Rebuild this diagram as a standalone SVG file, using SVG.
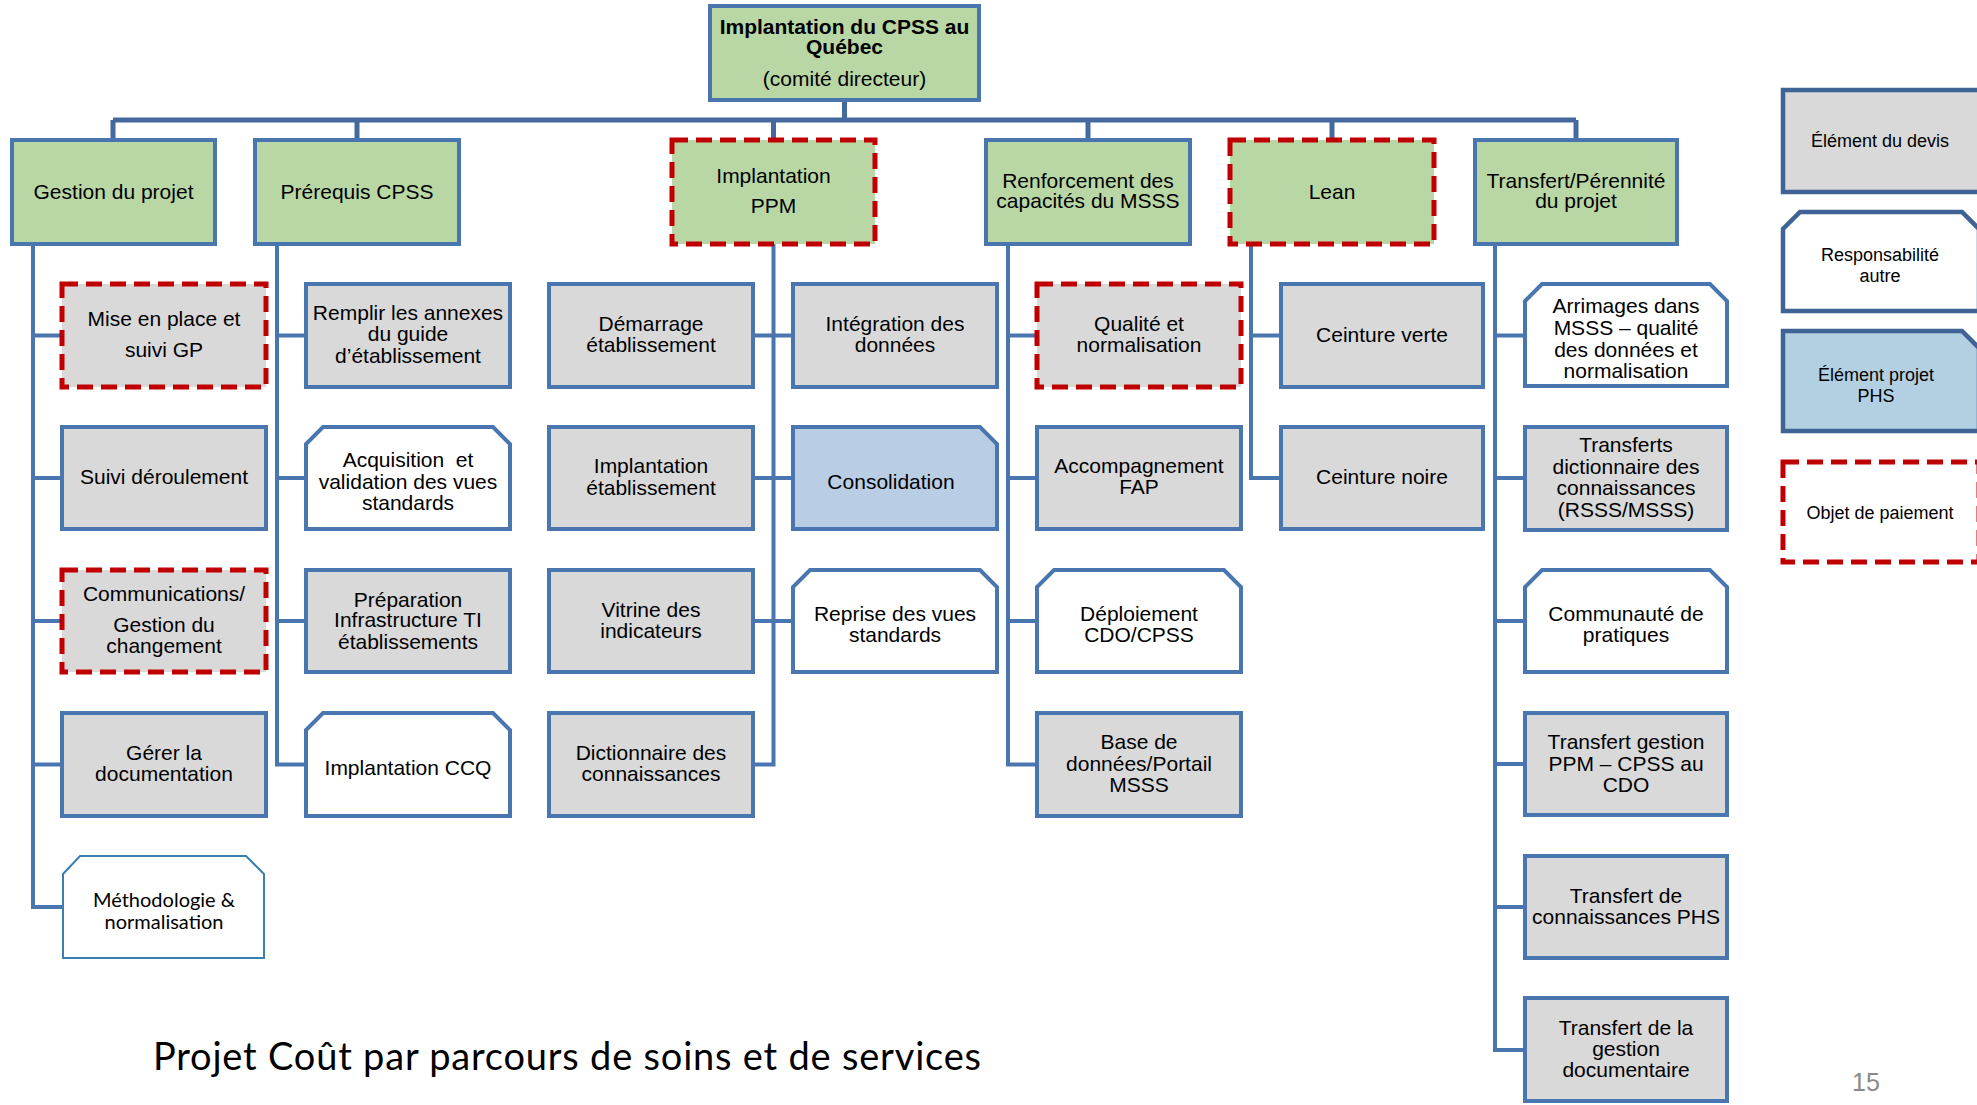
<svg xmlns="http://www.w3.org/2000/svg" width="1977" height="1105" viewBox="0 0 1977 1105">
<style>
.b{stroke:#4a76b0;stroke-width:4}
.lg{stroke:#3e6394;stroke-width:4.5}
.pay{stroke:#c00000;stroke-width:5;stroke-dasharray:16 8}
.g{fill:#b9d7a4}
.gr{fill:#d9d9d9}
.w{fill:#ffffff}
.bl{fill:#b9cde5}
.phs{fill:#b3d0e2}
.meth{fill:#ffffff;stroke:#3b7fb0;stroke-width:2}
.c{fill:none;stroke:#4a76b0;stroke-width:4}
.bus{fill:none;stroke:#44699f;stroke-width:5}
text{font-family:"Liberation Sans",Arial,sans-serif;font-size:21px;fill:#000;text-anchor:middle}
.bd{font-weight:bold}
.s18{font-size:18px}
.lato{font-family:Lato,"Open Sans",sans-serif;font-size:20px}
.title{font-family:Lato,"Open Sans",sans-serif;font-size:38px;text-anchor:start}
.pg{font-size:25px;fill:#898989;text-anchor:start}
</style>

<g id="connectors">
  <path class="bus" d="M844.5,100 V120 M113,120 H1576 M113,120 V140 M357,120 V140 M773.5,120 V140 M1088,120 V140 M1332,120 V140 M1576,120 V140"/>
  <path class="c" d="M33,244 V907 M33,335.5 H62 M33,478 H62 M33,621 H62 M33,764.5 H62 M31,907 H62"/>
  <path class="c" d="M277,244 V764.5 M277,335.5 H306 M277,478 H306 M277,621 H306 M275,764.5 H306"/>
  <path class="c" d="M773.5,244 V766.5 M753,335.5 H793 M753,478 H793 M753,621 H793 M753,764.5 H775.5"/>
  <path class="c" d="M1008,244 V764.5 M1008,335.5 H1037 M1008,478 H1037 M1008,621 H1037 M1006,764.5 H1037"/>
  <path class="c" d="M1251,244 V478 M1251,335.5 H1281 M1249,478 H1281"/>
  <path class="c" d="M1495,244 V1050 M1495,335.5 H1525 M1495,478 H1525 M1495,621 H1525 M1495,764 H1525 M1495,907 H1525 M1493,1050 H1525"/>
</g>

<g id="n_top"><rect class="b g" x="710" y="6" width="269" height="94"/>
<text class="bd" x="844.5" y="34">Implantation du CPSS au</text><text class="bd" x="844.5" y="54">Québec</text><text x="844.5" y="86">(comité directeur)</text></g>

<g id="n_gestion"><rect class="b g" x="12" y="140" width="203" height="104"/><text x="113.5" y="199">Gestion du projet</text></g>
<g id="n_prerequis"><rect class="b g" x="255" y="140" width="204" height="104"/><text x="357" y="199">Prérequis CPSS</text></g>
<g id="n_ppm"><rect class="pay g" x="672" y="140" width="203" height="104"/><text x="773.5" y="183">Implantation</text><text x="773.5" y="213">PPM</text></g>
<g id="n_renforcement"><rect class="b g" x="986" y="140" width="204" height="104"/><text x="1088" y="188">Renforcement des</text><text x="1088" y="208">capacités du MSSS</text></g>
<g id="n_lean"><rect class="pay g" x="1230" y="140" width="204" height="104"/><text x="1332" y="199">Lean</text></g>
<g id="n_transfert"><rect class="b g" x="1475" y="140" width="202" height="104"/><text x="1576" y="188">Transfert/Pérennité</text><text x="1576" y="208">du projet</text></g>

<g id="n_mise"><rect class="pay gr" x="62" y="284" width="204" height="103"/><text x="164" y="326">Mise en place et</text><text x="164" y="357">suivi GP</text></g>
<g id="n_suivi"><rect class="b gr" x="62" y="427" width="204" height="102"/><text x="164" y="484">Suivi déroulement</text></g>
<g id="n_comm"><rect class="pay gr" x="62" y="570" width="204" height="102"/><text x="164" y="601">Communications/</text><text x="164" y="632">Gestion du</text><text x="164" y="653">changement</text></g>
<g id="n_gerer"><rect class="b gr" x="62" y="713" width="204" height="103"/><text x="164" y="760">Gérer la</text><text x="164" y="781">documentation</text></g>
<g id="n_methodo"><path class="meth" d="M80,856 H246 L264,874 V958 H63 V874 Z"/><text class="lato" x="164" y="907">Méthodologie &amp;</text><text class="lato" x="164" y="929">normalisation</text></g>

<g id="n_remplir"><rect class="b gr" x="306" y="284" width="204" height="103"/><text x="408" y="320">Remplir les annexes</text><text x="408" y="341">du guide</text><text x="408" y="363">d’établissement</text></g>
<g id="n_acquisition"><path class="b w" d="M323,427 H493 L510,444 V529 H306 V444 Z"/><text x="408" y="467" xml:space="preserve">Acquisition  et</text><text x="408" y="489">validation des vues</text><text x="408" y="510">standards</text></g>
<g id="n_preparation"><rect class="b gr" x="306" y="570" width="204" height="102"/><text x="408" y="607">Préparation</text><text x="408" y="627">Infrastructure TI</text><text x="408" y="649">établissements</text></g>
<g id="n_ccq"><path class="b w" d="M323,713 H493 L510,730 V816 H306 V730 Z"/><text x="408" y="775">Implantation CCQ</text></g>

<g id="n_demarrage"><rect class="b gr" x="549" y="284" width="204" height="103"/><text x="651" y="331">Démarrage</text><text x="651" y="352">établissement</text></g>
<g id="n_implet"><rect class="b gr" x="549" y="427" width="204" height="102"/><text x="651" y="473">Implantation</text><text x="651" y="495">établissement</text></g>
<g id="n_vitrine"><rect class="b gr" x="549" y="570" width="204" height="102"/><text x="651" y="617">Vitrine des</text><text x="651" y="638">indicateurs</text></g>
<g id="n_dictionnaire"><rect class="b gr" x="549" y="713" width="204" height="103"/><text x="651" y="760">Dictionnaire des</text><text x="651" y="781">connaissances</text></g>

<g id="n_integration"><rect class="b gr" x="793" y="284" width="204" height="103"/><text x="895" y="331">Intégration des</text><text x="895" y="352">données</text></g>
<g id="n_consolidation"><path class="b bl" d="M793,427 H980 L997,444 V529 H793 Z"/><text x="891" y="489">Consolidation</text></g>
<g id="n_reprise"><path class="b w" d="M810,570 H980 L997,587 V672 H793 V587 Z"/><text x="895" y="621">Reprise des vues</text><text x="895" y="642">standards</text></g>

<g id="n_qualite"><rect class="pay gr" x="1037" y="284" width="204" height="103"/><text x="1139" y="331">Qualité et</text><text x="1139" y="352">normalisation</text></g>
<g id="n_accomp"><rect class="b gr" x="1037" y="427" width="204" height="102"/><text x="1139" y="473">Accompagnement</text><text x="1139" y="494">FAP</text></g>
<g id="n_deploiement"><path class="b w" d="M1054,570 H1224 L1241,587 V672 H1037 V587 Z"/><text x="1139" y="621">Déploiement</text><text x="1139" y="642">CDO/CPSS</text></g>
<g id="n_base"><rect class="b gr" x="1037" y="713" width="204" height="103"/><text x="1139" y="749">Base de</text><text x="1139" y="771">données/Portail</text><text x="1139" y="792">MSSS</text></g>

<g id="n_verte"><rect class="b gr" x="1281" y="284" width="202" height="103"/><text x="1382" y="342">Ceinture verte</text></g>
<g id="n_noire"><rect class="b gr" x="1281" y="427" width="202" height="102"/><text x="1382" y="484">Ceinture noire</text></g>

<g id="n_arrimages"><path class="b w" d="M1542,284 H1710 L1727,301 V386 H1525 V301 Z"/><text x="1626" y="313">Arrimages dans</text><text x="1626" y="335">MSSS – qualité</text><text x="1626" y="357">des données et</text><text x="1626" y="378">normalisation</text></g>
<g id="n_transferts"><rect class="b gr" x="1525" y="427" width="202" height="103"/><text x="1626" y="452">Transferts</text><text x="1626" y="474">dictionnaire des</text><text x="1626" y="495">connaissances</text><text x="1626" y="517">(RSSS/MSSS)</text></g>
<g id="n_communaute"><path class="b w" d="M1542,570 H1710 L1727,587 V672 H1525 V587 Z"/><text x="1626" y="621">Communauté de</text><text x="1626" y="642">pratiques</text></g>
<g id="n_tgestion"><rect class="b gr" x="1525" y="713" width="202" height="102"/><text x="1626" y="749">Transfert gestion</text><text x="1626" y="771">PPM – CPSS au</text><text x="1626" y="792">CDO</text></g>
<g id="n_tphs"><rect class="b gr" x="1525" y="856" width="202" height="102"/><text x="1626" y="903">Transfert de</text><text x="1626" y="924">connaissances PHS</text></g>
<g id="n_tdoc"><rect class="b gr" x="1525" y="998" width="202" height="103"/><text x="1626" y="1035">Transfert de la</text><text x="1626" y="1056">gestion</text><text x="1626" y="1077">documentaire</text></g>

<g id="legend_devis"><rect class="lg gr" x="1783" y="90" width="198" height="102"/><text class="s18" x="1880" y="147">Élément du devis</text></g>
<g id="legend_resp"><path class="lg w" d="M1800,212 H1962 L1979,229 V311 H1783 V229 Z"/><text class="s18" x="1880" y="261">Responsabilité</text><text class="s18" x="1880" y="282">autre</text></g>
<g id="legend_phs"><path class="lg phs" d="M1783,331 H1962 L1979,348 V431 H1783 Z"/><text class="s18" x="1876" y="381">Élément projet</text><text class="s18" x="1876" y="402">PHS</text></g>
<g id="legend_pay"><rect class="pay w" x="1783" y="462" width="196" height="100"/><text class="s18" x="1880" y="519">Objet de paiement</text></g>

<text class="title" x="153" y="1070" textLength="828">Projet Coût par parcours de soins et de services</text>
<text class="pg" x="1852" y="1091">15</text>
</svg>
